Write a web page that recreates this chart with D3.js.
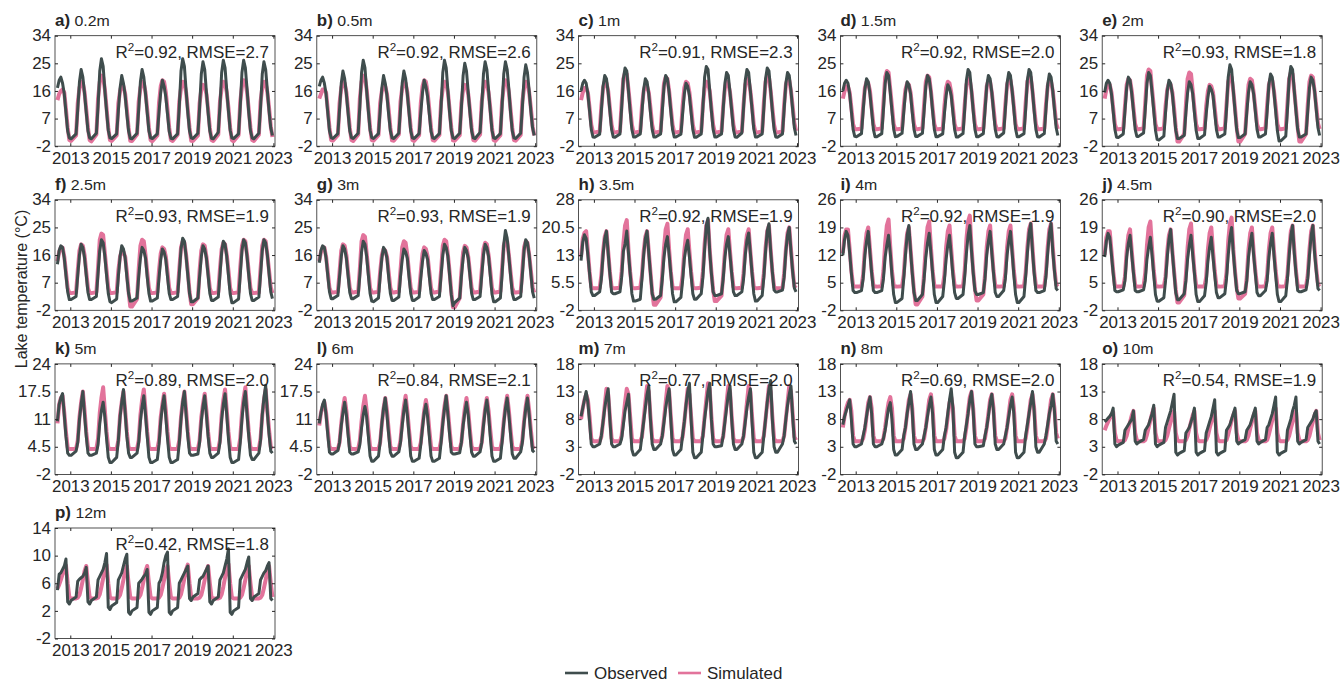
<!DOCTYPE html>
<html>
<head>
<meta charset="utf-8">
<script src="https://cdn.jsdelivr.net/npm/d3@7"></script>
<style>
  body { margin: 0; background: #fff; }
  svg { display: block; }
  text { font-family: "Liberation Sans", Arial, Helvetica, sans-serif; fill: #262626; }
</style>
</head>
<body>
<svg id="chart" width="1343" height="682"></svg>
<script>
// panel info
var letters = ["a","b","c","d","e","f","g","h","i","j","k","l","m","n","o","p"],
    depths = ["0.2m","0.5m","1m","1.5m","2m","2.5m","3m","3.5m","4m","4.5m","5m","6m","7m","8m","10m","12m"],
    r2 = ["0.92","0.92","0.91","0.92","0.93","0.93","0.93","0.92","0.92","0.90","0.89","0.84","0.77","0.69","0.54","0.42"],
    rmse = ["2.7","2.6","2.3","2.0","1.8","1.9","1.9","1.9","1.9","2.0","2.0","2.1","2.0","2.0","1.9","1.8"],
    yTicks = [
      [-2,7,16,25,34],[-2,7,16,25,34],[-2,7,16,25,34],[-2,7,16,25,34],[-2,7,16,25,34],
      [-2,7,16,25,34],[-2,7,16,25,34],[-2,5.5,13,20.5,28],[-2,5,12,19,26],[-2,5,12,19,26],
      [-2,4.5,11,17.5,24],[-2,4.5,11,17.5,24],[-2,3,8,13,18],[-2,3,8,13,18],[-2,3,8,13,18],
      [-2,2,6,10,14]
    ],
    xTickYears = [2013, 2015, 2017, 2019, 2021, 2023];

// sampling months (mid-month): 2012 from May, later years Jan + Apr..Dec
var firstYear = 2012, firstMonths = [5,6,7,8,9,10,11,12],
    laterYears = [2013,2014,2015,2016,2017,2018,2019,2020,2021,2022],
    laterMonths = [1,4,5,6,7,8,9,10,11,12];

// temperatures (°C), one row per year
var obs0_2 = [17,19.5,20.5,18.5,15,9,3,0.7,
  0.4,2,10,19,23,20.5,15,9,3,0.7,  0.4,2.2,11,22.5,26.5,24,16,9.5,3.2,0.7,
  0.5,2,9.5,17,21,18.5,14.5,8.5,3,0.6,  0.4,2.2,10,19,23,20.5,15,9,3,0.7,
  0.5,2,9,15.5,19.5,17.5,14,8.5,2.8,0.6,  0.4,2,11,22.5,26.5,24,16,9,3,0.7,
  0.5,2.2,10.5,21.5,25.5,23,15.5,9,3,0.6,  0.4,2.5,11,22,26,23.5,16,9.5,3.2,0.7,
  0.5,2,11,22,26,23.5,16.5,9,3,0.7,  0.4,2.2,10.5,21.5,25.5,23,16,9.5,4,1.5];
var sim0_2 = [13,15,16,16.5,15.5,10,4,0,
  -0.3,1.5,12,17,19,18.5,15.5,10,4,0,  -0.4,1.8,13.5,19,21,20.5,16.5,10.5,4,0,
  -0.3,1.5,12,16,18,17.5,15,10,4,-0.2,  -0.3,1.8,12.5,17,19,18.5,15.5,10,4,0,
  -0.4,1.5,12,17.5,19.5,19,15.5,10,4,0,  -0.3,1.7,12.5,17,19,18.5,15.5,10,4,-0.2,
  -0.3,1.5,12,16.5,18,17.5,15,10,4,0,  -0.3,1.8,12.5,17,19,18.5,15.5,10.5,4,0,
  -0.4,1.6,12.5,17.5,19.5,19,15.5,10,4,0,  -0.3,1.7,12.5,17,19,18.5,15.5,10.5,4.5,1];

var obs0_5 = [17.5,19.5,20.5,18.5,15,9,3,0.8,
  0.5,2.1,10,18.5,22.5,20,15,9,3,0.8,  0.5,2.2,11,22,26,23.5,16,9.5,3.2,0.8,
  0.5,2.1,9.5,17,21,18.5,14.5,8.5,3,0.7,  0.5,2.2,10,18.5,22.5,20,15,9,3,0.7,
  0.5,2.1,9,15.5,19.5,17.5,14,8.5,2.8,0.7,  0.5,2.1,11,22,26,23.5,16,9,3,0.7,
  0.5,2.2,10.5,21,25,22.5,15.5,9,3,0.7,  0.5,2.5,11,21.5,25.5,23,16,9.5,3.2,0.7,
  0.5,2.1,11,21.5,25.5,23,16.5,9,3,0.7,  0.5,2.2,10.5,20.5,24.5,22,16,9.5,4,1.5];
var sim0_5 = [13.5,15,16.5,16.5,15.5,10,4,0,
  -0.2,1.6,12,17,19,18.5,15.5,10,4,0,  -0.3,1.8,13.5,19,21,20.5,16.5,10.5,4,0,
  -0.2,1.6,12,16,18,17.5,15,10,4,-0.1,  -0.2,1.8,12.5,17,19,18.5,15.5,10,4,0,
  -0.3,1.6,12,17.5,19.5,19,15.5,10,4,0,  -0.2,1.7,12.5,17,19,18.5,15.5,10,4,-0.1,
  -0.2,1.6,12,16.5,18,17.5,15,10,4,0,  -0.2,1.8,12.5,17,19,18.5,15.5,10.5,4,0,
  -0.3,1.6,12.5,17.5,19.5,19,15.5,10,4,0,  -0.2,1.7,12.5,17,19,18.5,15.5,10.5,4.5,1.5];

var obs1 = [16,18.5,19.5,18.5,15,9.5,3.5,1,
  0.9,1.9,9.5,17.5,21,20,15.5,9.5,3.5,1,  0.9,2,10.5,20,23.5,22.5,16,9.5,3.5,1,
  1,2,9,16.5,20,19,15,9,3.5,1,  1,2,9.5,17.5,21,20,15.5,9.5,3.5,1,
  1,1.9,8.5,15,18.5,17.5,14.5,9,3.4,0.9,  0.9,2,10.5,20.5,24,23,16,9.5,3.5,1,
  1,2,10,18.5,22,21,15.5,9.5,3.5,1,  0.9,2.3,10.5,19.5,23,22,16,10,3.6,1,
  1,2,10.5,20,23.5,22.5,16,9.5,3.5,1,  0.9,2,10,18.5,22,21,16,10,4,1.5];
var sim1 = [13,15.5,17,17,15.5,10.5,5,2.5,
  2.5,2.8,11,17,19,18.5,16,10.5,5,2.5,  2.5,2.8,12,20,22,21.5,16.5,11,5,2.5,
  2.5,2.8,11,16,18,17.5,15.5,10.5,5,2.5,  2.5,2.8,11.5,18.5,20.5,20,16,10.5,5,2.5,
  2.5,2.8,11,17,19,18.5,15.5,10.5,5,2.5,  2.5,2.8,11.5,17,19,18.5,16,10.5,5,2.5,
  2.5,2.8,11,17,19,18.5,15.5,10.5,5,2.5,  2.5,2.8,11.5,18,20,19.5,16,11,5,2.5,
  2.5,2.8,12,19,21,20.5,16,10.5,5,2.5,  2.5,2.8,11.5,18,20,19.5,16,11,5.5,3];

var obs1_5 = [16,18.5,19.5,18.5,15,9.5,3.5,1.2,
  1.1,2.1,9.5,16.5,20,19,15,9.5,3.5,1.1,  1.1,2.1,10,18.5,22,21,15.5,9.5,3.5,1.1,
  1.2,2.2,9,15.5,19,18,15,9,3.5,1.2,  1.2,2.2,9.5,17.5,21,20,15.5,9.5,3.5,1.1,
  1.1,2,8.5,14.5,18,17,14.5,9,3.4,1,  1,2.1,10,19.5,23,22,16,9.5,3.5,1.1,
  1.1,2.1,9.5,17.5,21,20,15.5,9.5,3.5,1.1,  1,2.3,10,18.5,22,21,16,10,3.6,1.1,
  1.1,2.1,10,19.5,23,22,16,9.5,3.5,1.1,  1,2.1,10,18,21.5,20.5,16,10,4,1.5];
var sim1_5 = [13.5,16,17.5,17.5,15.5,10.5,5.2,3.5,
  3.5,3.7,11,17,19,18.5,16,10.5,5.2,3.5,  3.5,3.8,12,20.5,22.5,22,16.5,11,5.2,3.5,
  3.5,3.7,11,16.5,18.5,18,15.5,10.5,5.2,3.5,  3.5,3.8,11.5,19,21,20.5,16,10.5,5.2,3.5,
  3.5,3.7,11,17,19,18.5,15.5,10.5,5.2,3.5,  3.5,3.8,11.5,18,20,19.5,16,10.5,5.2,3.5,
  3.5,3.7,11,17.5,19.5,19,15.5,10.5,5.2,3.5,  3.5,3.8,11.5,18,20,19.5,16,11,5.2,3.5,
  3.5,3.8,12,19,21,20.5,16,10.5,5.2,3.5,  3.5,3.7,11.5,17.5,19.5,19,16,11,5.5,3.6];

var obs2 = [15.5,18.5,19.5,18.5,15,9.5,3.5,0.9,
  0.8,2,9.5,17,20.5,19.5,15,9.5,3.5,1.2,  1.2,2.3,10,18.5,22,21,15.5,9.5,3.2,0.2,
  0,1.3,9,16,19.5,18.5,15,9,3.2,0.5,  0.5,1.5,9,15.5,19,18,15,9,3.2,0.5,
  0.5,1.7,8.5,14,17.5,16.5,14.5,9,3.4,1,  1,2,10,20.5,24.5,23,16,9.5,3.3,0.8,
  0.8,2,9,15.5,19,18,15,9.5,3.5,1,  1,2,9.5,18,21.5,20.5,15.5,9.5,3,-0.3,
  -0.3,1.3,10,20,24,23,16,9.5,3.5,1,  1,2,9.5,17,20.5,19.5,16,10,4,1.5];
var sim2 = [13.5,16.5,18,18,15.5,10.5,5.2,3.5,
  3.5,3.7,11,18,20,19.5,16,10.5,5.2,3.5,  3.5,3.8,12,21,23,22.5,16.5,11,5.2,3.5,
  3.5,3.8,11,16.5,18.5,18,15.5,10.5,4,-0.5,  -0.5,2,11.5,20,22,21.5,16,10.5,5.2,3.5,
  3.5,3.7,11,16,18,17.5,15.5,10.5,5.2,3.5,  3.5,3.8,11.5,19,21,20.5,16,10.5,4,-0.5,
  -0.5,2,11,18,20,19.5,15.5,10.5,5.2,3.5,  3.5,3.8,11.5,18,20,19.5,16,11,5.2,3.5,
  3.5,3.8,12,20,22,21.5,16,10.5,4,-0.5,  -0.5,2,11.5,19,21,20.5,16,11,5.5,3.6];

var obs2_5 = [13,17.5,19,18.5,15,9.5,4,1.5,
  1.5,2.5,9.5,16,19.5,18.5,15,9.5,3.8,1.5,  1.5,2.5,10,17.5,21,20,15.5,9.5,3.5,0.8,
  0.5,1.7,9,15.5,19,18,15,9,3.5,1,  1,2,9,15,18.5,17.5,15,9,3.5,1,
  1,2,8.5,14.5,18,17,14.5,9,3.5,1.5,  1.5,2.5,10,18,21.5,20.5,15.5,9.5,3.5,0.8,
  0.8,2,9,15.5,19,18,15,9.5,3.5,1.2,  1.2,2.3,9.5,17,20.5,19.5,15.5,9.5,3.3,0.5,
  0.5,1.7,9.5,17.5,21,20,15.5,9.5,3.5,1.2,  1.2,2.3,9.5,17.5,21,20,16,10,4,1.8];
var sim2_5 = [14,17,18.5,18.5,15.5,10.5,5.2,3.6,
  3.6,3.8,11,17.5,19.5,19,16,10.5,5.2,3.6,  3.6,3.9,12,21,23,22.5,16.5,11,5.2,3.6,
  3.6,3.9,11,15.5,17.5,17,15.5,10.5,4,-0.8,  -0.8,1.7,11.5,19,21,20.5,16,10.5,5.2,3.6,
  3.6,3.8,11,16.5,18.5,18,15.5,10.5,5.2,3.6,  3.6,3.9,11.5,18.5,20.5,20,16,10.5,4,0,
  0,2,11,17.5,19.5,19,15.5,10.5,5.2,3.6,  3.6,3.9,11.5,18,20,19.5,16,11,5.2,3.6,
  3.6,3.9,12,19,21,20.5,16,10.5,5.2,3.6,  3.6,3.8,11.5,19,21,20.5,16,11,5.5,3.6];

var obs3 = [13.5,17.5,19,18.5,15,9.5,4,1.8,
  1.8,2.8,9,15.5,19,18,15,9.5,3.8,1.8,  1.8,2.8,9.5,17,20.5,19.5,15.5,9.5,3.5,1,
  0.8,2,9,15,18.5,17.5,15,9,3.5,1.2,  1.2,2.3,9,14.5,18,17,15,9,3.5,1.2,
  1.2,2.3,8.5,14,17.5,16.5,14.5,9,3.5,1.5,  1.5,2.5,9.5,16,19.5,18.5,15.5,9.5,3,-0.5,
  0.5,2,9,15,18.5,17.5,15,9.5,3.5,1.5,  1.5,2.5,9.5,16,19.5,18.5,15.5,9.5,3.3,0.8,
  0.8,2,9.5,19.5,24,21.5,15.5,9.5,3.5,1.5,  1.5,2.5,9.5,17.5,21,20,16,10,4,2];
var sim3 = [14,17,18.5,18.5,15.5,10.5,5.3,3.8,
  3.8,4,10.5,17.5,19.5,19,16,10.5,5.3,3.8,  3.8,4.1,11.5,20.5,22.5,22,16.5,11,5.3,3.8,
  3.8,4,10.5,16,18,17.5,15.5,10.5,5.3,3.8,  3.8,4.1,11,18.5,20.5,20,16,10.5,5.3,3.8,
  3.8,4,10.5,16.5,18.5,18,15.5,10.5,5.3,3.8,  3.8,4.1,11,19,21,20.5,16,10.5,4,-1,
  -1,2,10.5,17,19,18.5,15.5,10.5,5.3,3.8,  3.8,4.1,11,18,20,19.5,16,11,5.3,3.8,
  3.8,4.1,11.5,19,21,20.5,16,10.5,5.3,3.8,  3.8,4,11,18.5,20.5,20,16,11,5.5,3.8];

var obs3_5 = [11.5,16.5,18.5,17.5,13,8,3,2,
  2,3,6.5,13,17.5,19.5,13.5,8,3,2.5,  2.5,3,7,14,16,19.5,13.5,8,2.5,0.5,
  0.5,1,6.5,13,17.5,19.5,13.5,8,2.5,1,  1,2,6.5,12.5,16,18,13,8,2.5,0.3,
  0.3,1.5,6,12,15,17,12.5,7.5,2.5,1,  1,2.5,7,14.5,21,23,14,8,3,2,
  2,2.5,6.5,12.5,16,18,13,8,3,2,  2,3,6.5,13,17,19,13.5,8,2.5,0.5,
  0.5,2,7,14,19.5,21.5,14,8.5,3.5,3,  3,3.5,7,14,18.5,20.5,14,8.5,4,3];
var sim3_5 = [12.5,17.5,19,19.5,14,8.5,4.3,4,
  4,4,7.5,14,18,19.5,14,8.5,4.3,4,  4,4.1,8.5,16,21,22.5,14.5,8.5,4.3,4,
  4,4.1,7.5,14,18,19.5,14,8.5,3,-0.5,  -0.5,1.5,8,15,20,21.5,14.5,8.5,4.3,4,
  4,4,7.5,14,18.5,20,14,8.5,4.3,4,  4,4.1,8.5,16,21,22.5,14.5,8.5,3.5,0.5,
  0.5,2,7.5,14,18.5,20,14,8.5,4.3,4,  4,4.1,8,14.5,18.5,20,14,8.5,4.3,4,
  4,4.1,8,15,19.5,21,14.5,8.5,4.3,4,  4,4,8,14.5,19,20.5,14.5,9,4.5,4];

var obs4 = [12,16,18,17,12.5,7.5,3,2.5,
  2.5,3,6,12,15.5,18,12.5,7.5,3,2.5,  2.5,3,6,11.5,14.5,17,12.5,7,2,0,
  0,1,6,12,17,19.5,13,7.5,2.5,0.5,  0.5,2,6,11.5,15,17.5,12.5,7.5,2,0,
  0,1.5,5.5,11,14.5,17,12,7,2.5,1,  1,2,6.5,12.5,17,19.5,13,7.5,3,2,
  2,2.5,6,12,15.5,18,12.5,7.5,2.5,1.5,  1.5,3,6,12,15.5,18,12.5,7,2,0,
  0,1.5,6.5,12.5,17.5,20,13,7.5,3,2.5,  2.5,3,6.5,12.5,17.5,20,13,8,3.5,3];
var sim4 = [12.5,17,18.5,18.5,13.5,8,4.3,4,
  4,4,7,13.5,17.5,19,13.5,8,4.3,4,  4,4.1,8,15,19.5,21,14,8,4.3,4,
  4,4.1,7,13.5,17.5,19,13.5,8,3,-0.5,  -0.5,1.5,7.5,14.5,19,20.5,14,8,4.3,4,
  4,4,7,14,18,19.5,13.5,8,4.3,4,  4,4.1,8,16,20.5,22,14,8,3.5,0.5,
  0.5,2,7,14,18,19.5,13.5,8,4.3,4,  4,4.1,7.5,14,18,19.5,13.5,8,4.3,4,
  4,4.1,7.5,14,18.5,20,14,8,4.3,4,  4,4,7.5,14,18.5,20,14,8.5,4.5,4];

var obs4_5 = [11.5,15.5,17.5,16.5,12,7.5,3,2.7,
  2.7,3.2,5.5,11.5,15,17,12,7.5,3,2.7,  2.7,3.2,5.5,11,14,16.5,12,7,2,0.3,
  0.3,1.2,5.5,11.5,16,18.5,12.5,7.5,2.5,0.7,  0.7,2.2,5.5,11,14.5,17,12,7.5,2,0.2,
  0.2,1.7,5,10.5,14,16.5,11.5,7,2.5,1.2,  1.2,2.2,6,12,16.5,19,12.5,7.5,3,2.2,
  2.2,2.7,5.5,11.5,15,17.5,12,7.5,2.5,1.7,  1.7,3,5.5,11.5,15,17.5,12,7,2,0.2,
  0.2,1.7,6,12,17,19.5,12.5,7.5,3,2.7,  2.7,3.2,6,12,17,19.5,12.5,8,3.5,3];
var sim4_5 = [12,16.5,18,18,13,8,4.3,4,
  4,4,6.5,13,17,18.5,13,8,4.3,4,  4,4.1,7.5,14.5,19,20.5,13.5,8,4.3,4,
  4,4.1,6.5,13,17,18.5,13,8,3.2,0,  0,1.8,7,14,18.5,20,13.5,8,4.3,4,
  4,4,6.5,13.5,17.5,19,13,8,4.3,4,  4,4.1,7.5,15.5,20,21.5,13.5,8,3.6,1,
  1,2.2,6.5,13.5,17.5,19,13,8,4.3,4,  4,4.1,7,13.5,17.5,19,13,8,4.3,4,
  4,4.1,7,13.5,18,19.5,13.5,8,4.3,4,  4,4,7,13.5,18,19.5,13.5,8.5,4.5,4];

var obs5 = [10.5,14.5,16,17,12,7,3,2.5,
  2.5,3.5,5.5,11,14.5,17.5,12,7,3,2.5,  2.5,3,5,10,13,15,11.5,6.5,2,0.8,
  0.8,2,6,11.5,15,18,12.5,7,3,2,  2,3,5.5,10.5,14,16.5,12,7,2,0.8,
  0.8,1.5,5,10.5,14,16.5,11.5,6.5,2,0.8,  0.8,1.5,5.5,11,15,17.5,12,7,3,2.5,
  2.5,2.8,5.5,10.5,14,16.5,12,7,3,2,  2,3,5.5,11,14.5,17,12,6.5,2,0.8,
  0.8,1.5,5.5,11,15,17.5,12,7,2.5,1.5,  1.5,3,6,12,16,19,12.5,7.5,3.5,3];
var sim5 = [10,14.5,16,16.5,12.5,8,4.3,4,
  4,4,6,11.5,15,17.5,13,8,4.3,4,  4,4,6.5,12.5,16,18.5,13,8,4.3,4,
  4,4,6,12,15,17.5,13,8,4.3,4,  4,4,6,12,15.5,18,13,8,4.3,4,
  4,4,6,11.5,14.5,17,13,8,4.3,4,  4,4,6,11.5,15,17.5,13,8,4.3,4,
  4,4,6,11.5,14.5,17,13,8,4.3,4,  4,4,6,12,15.5,18,13,8,4.3,4,
  4,4,6.5,12.5,16,18.5,13,8,4.3,4,  4,4,6.5,12,15.5,18,13,8.5,4.5,4];

var obs6 = [10,12.5,14.5,15.5,12,7.5,3.2,2.8,
  2.8,3.6,5.5,9.5,12.5,15,12,7.5,3.2,2.8,  2.8,3.3,5,9,12,14,11.5,7,2.3,1.1,
  1.1,2.3,5.5,10,13.5,16,12,7.5,3.2,2.3,  2.3,3.3,5.5,9.5,13,15.5,12,7.5,2.3,1.1,
  1.1,1.8,5,9,12.5,14.5,11.5,7,2.3,1.1,  1.1,1.8,5.5,10,13.5,16.5,12,7.5,3.2,2.8,
  2.8,3.1,5.5,9.5,12.5,15,12,7.5,3.2,2.3,  2.3,3.3,5.5,9.5,13,15.5,12,7,2.3,1.1,
  1.1,1.8,5.5,10,13.5,16,12,7.5,2.8,1.8,  1.8,3.3,5.5,10,13.5,16,12,7.5,3.6,3.2];
var sim6 = [9.5,12.5,14,15,12.5,8.5,4.5,4,
  4,4,5.5,10,13.5,16,13,8.5,4.5,4,  4,4,6,10.5,14,16.5,13,8.5,4.5,4,
  4,4,5.5,10,13.5,16,13,8.5,4.5,4,  4,4,6,10.5,14,16.5,13,8.5,4.5,4,
  4,4,5.5,9.5,13,15.5,13,8.5,4.5,4,  4,4,6,10.5,14,16.5,13,8.5,4.5,4,
  4,4,5.5,10,13.5,16,13,8.5,4.5,4,  4,4,5.5,10,13.5,16,13,8.5,4.5,4,
  4,4,6,10.5,14,16.5,13,8.5,4.5,4,  4,4,6,10.5,14,16.5,13,8.5,4.5,4];

var obs7 = [8.5,10,11.5,13,11,7.5,3.5,3,
  3,3.5,5,7.5,10,12,13.5,8,3.5,3,  3,3.5,4.5,7,9.5,11,12.5,7.5,2.5,1.5,
  1.5,2.5,5,7.5,10,12.5,14,8,3.5,2.5,  2.5,3.5,5,7.5,10,12,13.5,8,2.5,1.5,
  1.5,2.5,5,7.5,10.5,13,14.5,8,2,1,  1,2,5,8,10.5,13,14.5,8,3.5,3,
  3,3.2,5,7.5,10,12.5,14,8,3.5,2.5,  2.5,3.5,5,7.5,10,12,13.5,7.5,2,1,
  1,2,5,8,11,13.5,15,8,3,2,  2,3.5,5,8,10.5,12.5,14,8.5,4,3.5];
var sim7 = [8,10,11.5,12.5,11.5,8.5,4.5,4,
  4,4,4.8,7.5,10.5,13.5,12.5,8.5,4.5,4,  4,4,5,8,11,13.5,12.5,8.5,4.5,4,
  4,4,4.8,8,11,14,13,8.5,4.5,4,  4,4,5,8,11,14,13,8.5,4.5,4,
  4,4,4.8,7.5,10.5,13.5,12.5,8.5,4.5,4,  4,4,5,8.5,11.5,14.5,13.5,8.5,4.5,4,
  4,4,4.8,8,11,14,13,8.5,4.5,4,  4,4,4.8,8,11,14,13,8.5,4.5,4,
  4,4,5,8,11,14,13,8.5,4.5,4,  4,4,5,8,11,14,13,9,4.8,4.2];

var obs8 = [7,8.5,9.5,10.5,11.5,8,3.5,3,
  3,3.5,5,6.5,8.5,10.5,12,9,3.5,3,  3,3.5,4.5,6,8,10,11,8,2.5,1.5,
  1.5,2.5,5,6.5,9,11,13,9.5,3.5,2.5,  2.5,3.5,5,6.5,8.5,10.5,12,9,2.5,1.5,
  1.5,2.5,5,6.5,9,11.5,13.5,10,2,1,  1,2,5,7,9,11.5,13,9.5,3.5,3,
  3,3.2,5,6.5,8.5,11,12.5,9.5,3.5,2.5,  2.5,3.5,5,6.5,8.5,10.5,12,9,2,1,
  1,2,5,7,9,11,13,9.5,3,2,  2,3.5,5,7,9,10.5,12.5,9.5,4,3.5];
var sim8 = [6.5,8.5,10,11,11.5,9.5,5,4,
  4,4,4.5,6,8.5,11,12,10,5,4,  4,4,4.5,6.5,9,11,12,10,5,4,
  4,4,4.5,6.5,9,11.5,12.5,10,5,4,  4,4,4.5,6.5,9,11.5,12.5,10,5,4,
  4,4,4.5,6,8.5,11,12,10,5,4,  4,4,4.5,6.5,9.5,12,13,10,5,4,
  4,4,4.5,6.5,9,11.5,12.5,10,5,4,  4,4,4.5,6.5,9,11.5,12.5,10,5,4,
  4,4,4.5,6.5,9,11.5,12.5,10,5,4,  4,4,4.5,6.5,9,11.5,12.5,10,5.5,4.5];

var obs10 = [7.5,7.8,8.2,8.5,9,10,3.5,3,
  3.3,3.8,6,6.5,7,7.5,8,9.5,4,3.5,  3.8,4.3,6,6.5,7,8,9,10.5,3.5,3,
  3.3,3.8,6.5,7.5,8.5,9.5,11,12.5,2,1.5,  1.8,2.3,5.5,6,6.5,7.5,8.5,10,2,1.5,
  1.8,2.3,5.5,6.5,7.5,8.5,10,11.5,2,1.5,  1.8,2.3,6,6.5,7,8,9,10,4,3.5,
  3.8,4.3,6,6.5,7,8,9,10,4,3.5,  3.8,4.3,6.5,7,8,9,10.5,12,2,1.5,
  1.8,2.3,6,7,8,9.5,10.5,12,4,3.5,  3.8,4.3,6.5,7,7.5,8,9,9.5,4,3.5];
var sim10 = [6,6.8,7.5,8.2,8.8,9.3,5.5,4.2,
  4,4,4.2,5,6.3,7.5,8.7,9.5,5.5,4.2,  4,4,4.2,5.2,6.5,7.8,9,10,5.5,4.2,
  4,4,4.2,5,6.3,7.5,8.7,9.5,5.5,4.2,  4,4,4.2,5,6.3,7.5,8.7,9.5,5.5,4.2,
  4,4,4.2,5,6.3,7.5,8.7,9.5,5.5,4.2,  4,4,4.2,5.2,6.5,7.8,8.8,9.5,5.5,4.2,
  4,4,4.2,5,6.3,7.5,8.7,9.5,5.5,4.2,  4,4,4.2,5.2,6.5,7.8,9,10,5.5,4.2,
  4,4,4.2,5,6.3,7.5,8.7,9.5,5.5,4.2,  4,4,4.2,5,6.3,7.5,8.7,9.5,5.5,4.2];

var obs12 = [5,7.3,7.5,8,8.5,9.5,3.3,3,
  3.5,4,6.3,6.6,6.8,7,7.5,8.3,3.3,3,  3.5,4,6.5,7,7.5,8,9,10.3,2.5,2.2,
  2.7,3.2,6.5,7,7.5,8.5,9.5,10.2,1.8,1.5,  2,2.5,6,6.3,6.6,7,7.3,8,1.8,1.5,
  2,2.5,6,6.5,7.5,9,10,10.5,1.8,1.5,  2,2.5,6,6.5,7,7.5,8,8.5,3.8,3.5,
  4,4.5,6.5,6.8,7,7.5,8,8.5,3.3,3,  3.5,4,6.5,7,7.5,8.5,9.5,11,1.8,1.5,
  2,2.5,6.5,7,7.5,8,9,9.8,3.8,3.5,  4,4.5,6.5,7,7.5,7.8,8.5,9,3.8,3.5];
var sim12 = [5.2,5.8,6.5,7.3,8,8.6,6,4,
  3.8,3.8,3.9,4.3,5.3,6.5,7.8,8.5,6,4,  3.8,3.8,3.9,4.4,5.5,6.7,8,8.7,6,4,
  3.8,3.8,3.9,4.3,5.3,6.5,7.8,8.5,6,4,  3.8,3.8,3.9,4.3,5.3,6.5,7.8,8.5,6,4,
  3.8,3.8,3.9,4.3,5.3,6.5,7.8,8.5,6,4,  3.8,3.8,3.9,4.4,5.5,6.7,8,8.7,6,4,
  3.8,3.8,3.9,4.3,5.3,6.5,7.8,8.5,6,4,  3.8,3.8,3.9,4.4,5.5,6.8,8.1,8.8,6,4,
  3.8,3.8,3.9,4.3,5.3,6.5,7.8,8.5,6,4,  3.8,3.8,3.9,4.3,5.3,6.5,7.8,8.5,6,4];

var observed = [obs0_2, obs0_5, obs1, obs1_5, obs2, obs2_5, obs3, obs3_5, obs4, obs4_5, obs5, obs6, obs7, obs8, obs10, obs12],
    simulated = [sim0_2, sim0_5, sim1, sim1_5, sim2, sim2_5, sim3, sim3_5, sim4, sim4_5, sim5, sim6, sim7, sim8, sim10, sim12];

// colors
var colorObs = "#3f4d4d",
    colorSim = "#e2739b",
    colorAxis = "#262626",
    textStretch = 1.06;

// sample dates
var dates = [];
firstMonths.forEach(function(m) { dates.push(new Date(firstYear, m - 1, 15)); });
laterYears.forEach(function(yr) {
  laterMonths.forEach(function(m) { dates.push(new Date(yr, m - 1, 15)); });
});

var svg = d3.select("#chart");

var panelW = 220, panelH = 110.5,
    colStep = 261.8, rowStep = 164.1,
    left0 = 55, top0 = 35.7;

var x = d3.scaleTime()
    .domain([new Date(2012, 3, 1), new Date(2023, 0, 30)])
    .range([0, panelW]);

var xTicks = xTickYears.map(function(yr) { return new Date(yr, 0, 1); });

// stretch text horizontally like the reference
function stretch(sel, tx, ty) {
  sel.attr("transform", "translate(" + tx + "," + ty + ") scale(" + textStretch + ",1)");
}

letters.forEach(function(letter, i) {
  var col = i % 5, row = Math.floor(i / 5),
      left = left0 + col * colStep,
      top = top0 + row * rowStep,
      ticks = yTicks[i];

  var y = d3.scaleLinear()
      .domain([ticks[0], ticks[ticks.length - 1]])
      .range([panelH, 0]);

  var g = svg.append("g").attr("transform", "translate(" + left + "," + top + ")");

  g.append("clipPath").attr("id", "clip" + i)
    .append("rect").attr("width", panelW).attr("height", panelH);

  var line = d3.line()
      .x(function(d, k) { return x(dates[k]); })
      .y(function(d) { return y(d); });

  var plot = g.append("g").attr("clip-path", "url(#clip" + i + ")");
  plot.append("path").datum(simulated[i])
    .attr("d", line).attr("fill", "none")
    .attr("stroke", colorSim).attr("stroke-width", 4)
    .attr("stroke-linejoin", "round");
  plot.append("path").datum(observed[i])
    .attr("d", line).attr("fill", "none")
    .attr("stroke", colorObs).attr("stroke-width", 3)
    .attr("stroke-linejoin", "round");

  // axes with inward ticks on all sides
  var gb = g.append("g").attr("transform", "translate(0," + panelH + ")").attr("color", colorAxis)
    .call(d3.axisBottom(x).tickValues(xTicks).tickSize(-3).tickPadding(6)
      .tickFormat(d3.timeFormat("%Y")));
  var gl = g.append("g").attr("color", colorAxis)
    .call(d3.axisLeft(y).tickValues(ticks).tickSize(-3).tickPadding(4)
      .tickFormat(function(d) { return String(d); }));
  g.append("g").attr("color", colorAxis)
    .call(d3.axisTop(x).tickValues(xTicks).tickSize(-3).tickFormat(""));
  g.append("g").attr("transform", "translate(" + panelW + ",0)").attr("color", colorAxis)
    .call(d3.axisRight(y).tickValues(ticks).tickSize(-3).tickFormat(""));
  g.selectAll(".domain").remove();

  gb.selectAll("text").style("font-size", "16px").style("font-family", null)
    .each(function() {
      var t = d3.select(this), ty = +t.attr("y");
      t.attr("y", 0);
      stretch(t, 0, ty);
    });
  gl.selectAll("text").style("font-size", "16px").style("font-family", null)
    .each(function() {
      var t = d3.select(this), tx = +t.attr("x");
      t.attr("x", 0);
      stretch(t, tx, 0);
    });

  g.append("rect")
    .attr("width", panelW).attr("height", panelH)
    .attr("fill", "none").attr("stroke", colorAxis).attr("stroke-width", 0.8);

  // title
  var title = g.append("text");
  title.append("tspan").attr("font-weight", "bold").attr("font-size", 16).text(letter + ")");
  title.append("tspan").attr("font-size", 15).text(" " + depths[i]);
  stretch(title, 0, -10);

  // fit stats
  var stat = g.append("text").attr("text-anchor", "end").attr("font-size", 16);
  stat.append("tspan").text("R");
  stat.append("tspan").attr("font-size", 11).attr("dy", -7).text("2");
  stat.append("tspan").attr("dy", 7).text("=" + r2[i] + ", RMSE=" + rmse[i]);
  stretch(stat, panelW - 6, 22);
});

// y axis title
svg.append("text")
  .attr("transform", "translate(27,289) rotate(-90)")
  .attr("text-anchor", "middle")
  .attr("font-size", 16)
  .text("Lake temperature (°C)");

// legend
var legend = svg.append("g");
var legendItems = [
  { name: "Observed", color: colorObs, x: 565 },
  { name: "Simulated", color: colorSim, x: 678 }
];
legendItems.forEach(function(d) {
  legend.append("line")
    .attr("x1", d.x).attr("x2", d.x + 23)
    .attr("y1", 673).attr("y2", 673)
    .attr("stroke", d.color).attr("stroke-width", 2.6);
  var t = legend.append("text").attr("font-size", 16).text(d.name);
  stretch(t, d.x + 29, 679);
});
</script>
</body>
</html>
